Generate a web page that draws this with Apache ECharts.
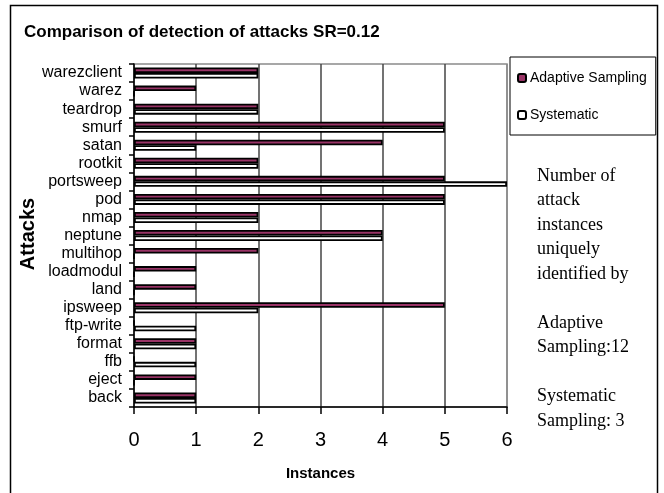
<!DOCTYPE html>
<html>
<head>
<meta charset="utf-8">
<script src="https://cdn.jsdelivr.net/npm/echarts@6/dist/echarts.min.js"></script>
<style>
  html, body { margin: 0; padding: 0; background: #fff; }
  #chart { width: 664px; height: 493px; }
</style>
</head>
<body>
<div id="chart"></div>
<script>
// Attack types, listed bottom-to-top along the category axis
const attacks = ['back', 'eject', 'ffb', 'format', 'ftp-write', 'ipsweep', 'land', 'loadmodul',
  'multihop', 'neptune', 'nmap', 'pod', 'portsweep', 'rootkit', 'satan', 'smurf', 'teardrop',
  'warez', 'warezclient'];

// Detected instances per attack type
const adaptiveSampling = [1, 1, 0, 1, 0, 5, 1, 1, 2, 4, 2, 5, 5, 2, 4, 5, 2, 1, 2];
const systematic       = [1, 0, 1, 1, 1, 2, 0, 0, 0, 4, 2, 5, 6, 2, 1, 5, 2, 0, 2];

const xTicks = [0, 1, 2, 3, 4, 5, 6];

const noteLines = ['Number of', 'attack', 'instances', 'uniquely', 'identified by', '',
  'Adaptive', 'Sampling:12', '', 'Systematic', 'Sampling: 3'];

const chart = echarts.init(document.getElementById('chart'), null, { renderer: 'canvas' });

const sans = 'Liberation Sans, Arial, sans-serif';

chart.setOption({
  animation: false,
  backgroundColor: '#fff',
  title: {
    text: 'Comparison of detection of attacks SR=0.12',
    left: 19,
    top: 19,
    textStyle: { fontFamily: sans, fontSize: 17, fontWeight: 'bold', color: '#000' }
  },
  legend: {
    data: ['Adaptive Sampling', 'Systematic'],
    orient: 'vertical',
    left: 510,
    top: 57,
    padding: [14, 9, 13, 7],
    itemWidth: 8,
    itemHeight: 8,
    itemGap: 23,
    backgroundColor: '#fff',
    borderColor: '#000',
    borderWidth: 1,
    borderRadius: 0,
    textStyle: { fontFamily: sans, fontSize: 14, color: '#000', padding: [0, 0, 0, -1] }
  },
  grid: {
    left: 134,
    right: 157,
    top: 64,
    bottom: 86,
    show: true,
    borderColor: '#8a8a8a',
    borderWidth: 1.5,
    backgroundColor: '#fff'
  },
  xAxis: {
    type: 'value',
    min: xTicks[0],
    max: xTicks[xTicks.length - 1],
    interval: 1,
    name: 'Instances',
    nameLocation: 'middle',
    nameGap: 59,
    nameTextStyle: { fontFamily: sans, fontSize: 15, fontWeight: 'bold', color: '#000' },
    axisLine: { show: true, lineStyle: { color: '#000', width: 1.5 } },
    axisTick: { show: true, length: 7, lineStyle: { color: '#000', width: 1.5 } },
    axisLabel: { fontFamily: sans, fontSize: 20, color: '#000', margin: 23 },
    splitLine: {
      show: true,
      lineStyle: { color: ['#8a8a8a', '#444', '#444', '#444', '#444', '#444', '#8a8a8a'], width: 1.5 }
    }
  },
  yAxis: {
    type: 'category',
    data: attacks,
    axisLine: { show: true, lineStyle: { color: '#000', width: 1.5 } },
    axisTick: { show: true, length: 5, lineStyle: { color: '#000', width: 1.5 } },
    axisLabel: { fontFamily: sans, fontSize: 16, color: '#000', margin: 12, interval: 0 },
    splitLine: { show: false }
  },
  series: [
    {
      name: 'Adaptive Sampling',
      type: 'bar',
      data: adaptiveSampling,
      barWidth: 5.5,
      barGap: '0%',
      itemStyle: { color: '#993366', borderColor: '#000', borderWidth: 1.8 }
    },
    {
      name: 'Systematic',
      type: 'bar',
      data: systematic,
      barWidth: 5.5,
      barGap: '0%',
      itemStyle: { color: '#fff', borderColor: '#000', borderWidth: 1.8 }
    }
  ],
  graphic: [
    {
      type: 'rect',
      shape: { x: 10.5, y: 5.5, width: 647, height: 520 },
      style: { fill: 'none', stroke: '#000', lineWidth: 1.5 },
      silent: true,
      z: 100
    },
    {
      // Vertical axis title
      type: 'text',
      x: 28,
      y: 234,
      rotation: Math.PI / 2,
      style: {
        text: 'Attacks',
        fontFamily: sans,
        fontSize: 20,
        fontWeight: 'bold',
        fill: '#000',
        align: 'center',
        verticalAlign: 'middle'
      }
    },
    {
      type: 'text',
      left: 537,
      top: 164,
      style: {
        text: noteLines.join('\n'),
        fontFamily: 'Liberation Serif, Times New Roman, serif',
        fontSize: 18,
        lineHeight: 24.5,
        fill: '#000'
      }
    }
  ]
});
</script>
</body>
</html>
